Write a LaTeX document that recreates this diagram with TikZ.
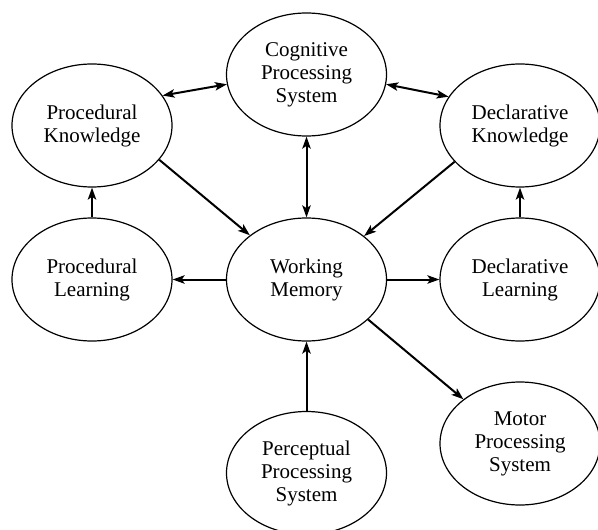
\documentclass[tikz,border=0pt]{standalone}
\usepackage{fontspec}
\setmainfont{Liberation Serif}
\usetikzlibrary{shapes.geometric,arrows.meta}
\tikzset{
  blob/.style={ellipse, draw, line width=0.6pt, minimum width=80pt, minimum height=61.5pt, inner sep=0pt, align=center, font=\fontsize{10.5}{11.5}\selectfont},
  link/.style={line width=1pt, -{Stealth[length=6pt,width=4.2pt,inset=1.4pt]}},
  dlink/.style={line width=1pt, {Stealth[length=6pt,width=4.2pt,inset=1.4pt]}-{Stealth[length=6pt,width=4.2pt,inset=1.4pt]}}
}
\begin{document}
\begin{tikzpicture}[x=0.5pt,y=-0.5pt]
\useasboundingbox (0,0) rectangle (598,529);
\node[blob] (cog) at (306.5,74.5) {Cognitive\\Processing\\System};
\node[blob] (pk) at (92,125.5) {Procedural\\Knowledge};
\node[blob] (dk) at (520,125.5) {Declarative\\Knowledge};
\node[blob] (pl) at (92,279.5) {Procedural\\Learning};
\node[blob] (wm) at (306.5,279.5) {Working\\Memory};
\node[blob] (dl) at (520,279.5) {Declarative\\Learning};
\node[blob] (mp) at (520,443.5) {Motor\\Processing\\System};
\node[blob] (pp) at (306.5,473) {Perceptual\\Processing\\System};
\draw[dlink] (pk.23) -- (cog.187);
\draw[dlink] (cog.353) -- (dk.158);
\draw[dlink] (cog.south) -- (wm.north);
\draw[link] (pk.-27) -- (wm.142);
\draw[link] (dk.209) -- (wm.37);
\draw[link] (pl.north) -- (pk.south);
\draw[link] (dl.north) -- (dk.south);
\draw[link] (wm.west) -- (pl.east);
\draw[link] (wm.east) -- (dl.west);
\draw[link] (pp.north) -- (wm.south);
\draw[link] (wm.-33) -- (mp.142.5);
\end{tikzpicture}
\end{document}
